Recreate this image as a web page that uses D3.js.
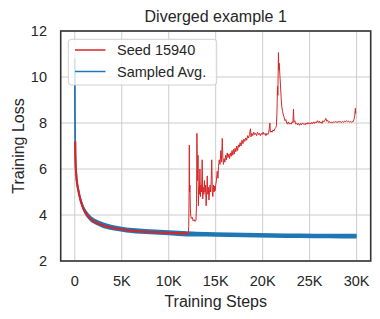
<!DOCTYPE html>
<html><head><meta charset="utf-8">
<script src="https://cdn.jsdelivr.net/npm/d3@7"></script>
<style>
html,body{margin:0;padding:0;background:#fff;}
svg text{font-family:"Liberation Sans",Arial,sans-serif;fill:#262626;}
</style></head>
<body><svg id="c" width="380" height="319"></svg>
<script>
const xTicks = [0, 5000, 10000, 15000, 20000, 25000, 30000];
const xTickLabels = ["0", "5K", "10K", "15K", "20K", "25K", "30K"];
const yTicks = [2, 4, 6, 8, 10, 12];
const yTickLabels = ["2", "4", "6", "8", "10", "12"];
const seriesNames = ["Seed 15940", "Sampled Avg."];

// Sampled average (blue): step, loss, half-width of the noisy band
const blueSteps = [0,20,40,60,100,150,200,300,400,500,650,800,1000,1250,1500,1750,2000,2300,2600,3000,3500,4000,4700,5500,6500,7500,8500,10000,11000,12000,13000,14000,15000,16500,18000,19500,21000,22500,24000,25500,27000,28500,30000];
const blueLoss  = [10.8,8.3,7.2,6.6,6.1,5.8,5.55,5.25,5.05,4.85,4.6,4.42,4.22,4.05,3.92,3.82,3.75,3.68,3.63,3.56,3.5,3.45,3.4,3.35,3.31,3.28,3.26,3.23,3.2,3.18,3.17,3.16,3.15,3.14,3.13,3.12,3.11,3.1,3.1,3.09,3.09,3.08,3.08];
const blueSpread = [0.05,0.05,0.06,0.07,0.08,0.09,0.1,0.11,0.12,0.13,0.14,0.14,0.14,0.14,0.13,0.13,0.12,0.12,0.12,0.12,0.12,0.11,0.11,0.11,0.11,0.11,0.11,0.11,0.11,0.11,0.1,0.1,0.1,0.1,0.1,0.1,0.1,0.1,0.1,0.1,0.1,0.1,0.1];

// Seed 15940 (red), before divergence
const redEarlySteps = [40,60,100,150,200,300,400,500,650,800,1000,1250,1500,1750,2000,2300,2600,3000,3500,4000,4700,5500,6500,7500,8500,10000,11000,12000,12100];
const redEarlyLoss  = [7.2,6.55,6.05,5.75,5.5,5.22,5.02,4.83,4.58,4.4,4.2,4.03,3.9,3.8,3.73,3.66,3.61,3.55,3.49,3.44,3.39,3.34,3.3,3.27,3.25,3.22,3.21,3.2,3.2];

// Seed 15940 (red), diverged part
const redLateSteps = [12100,12130,12160,12190,12220,12260,12300,12340,12400,12500,12600,12700,12800,12900,12960,13000,13040,13080,13120,13160,13200,13260,13320,13380,13430,13500,13560,13620,13680,13740,13800,13860,13920,13980,14040,14100,14160,14220,14280,14340,14400,14460,14520,14580,14640,14700,14760,14820,14880,14940,15000,15080,15160,15240,15300,15380,15460,15550,15620,15700,15760,15830,15900,15980,16060,16140,16220,16300,16400,16480,16560,16650,16740,16820,16900,16980,17060,17150,17240,17330,17420,17500,17600,17700,17800,17900,18000,18100,18200,18300,18400,18500,18600,18700,18760,18850,18950,19050,19150,19250,19350,19450,19550,19650,19750,19850,19950,20050,20150,20250,20350,20450,20550,20650,20770,20820,20900,21000,21100,21200,21300,21400,21470,21530,21580,21620,21680,21720,21760,21830,21900,21980,22040,22120,22200,22290,22380,22460,22560,22640,22740,22840,22940,23040,23140,23220,23280,23330,23420,23520,23620,23720,23820,23920,24020,24120,24220,24320,24420,24520,24620,24720,24820,24920,25020,25120,25220,25320,25420,25520,25620,25720,25820,25920,26020,26120,26220,26320,26420,26520,26620,26720,26820,26920,27020,27120,27220,27320,27420,27520,27620,27720,27820,27920,28020,28120,28220,28320,28420,28520,28620,28720,28820,28920,29020,29120,29220,29320,29420,29520,29620,29720,29800,29870,29910];
const redLateLoss = [3.2,3.5,4.6,7.04,5.0,5.3,4.3,4.0,3.85,3.9,3.75,3.8,3.72,3.78,4.5,7.55,6.2,5.5,6.6,4.4,5.2,4.9,6.0,4.8,5.3,5.0,6.4,4.7,5.2,4.9,5.5,5.0,5.3,4.4,5.0,5.7,4.9,5.2,4.65,5.0,5.3,5.0,5.5,6.4,5.0,4.8,5.3,5.0,5.25,5.05,5.3,5.5,5.9,5.6,6.1,6.4,6.2,6.8,6.3,7.33,6.5,6.2,6.45,6.3,6.6,6.4,6.7,6.5,6.65,6.45,6.7,6.55,6.8,6.6,6.85,6.65,6.9,6.75,7.0,6.8,7.05,6.95,7.15,7.0,7.25,7.1,7.3,7.2,7.35,7.25,7.45,7.35,7.5,7.75,7.4,7.55,7.45,7.6,7.5,7.55,7.45,7.6,7.5,7.55,7.45,7.55,7.5,7.6,7.5,7.55,7.45,7.55,7.5,7.6,8.0,7.6,7.65,7.6,7.7,7.65,7.75,7.8,7.9,8.6,9.6,9.2,11.06,10.3,10.6,10.1,9.6,9.0,8.7,8.5,8.35,8.25,8.1,8.15,8.0,7.95,8.05,7.95,8.0,7.95,8.05,8.0,8.6,8.05,8.1,7.95,8.0,7.92,7.98,7.9,7.98,7.92,8.0,7.95,7.98,7.92,8.0,7.95,8.02,7.96,8.0,7.95,8.03,7.97,8.05,7.98,8.05,8.0,8.1,8.02,8.08,8.0,8.05,7.98,8.1,8.05,8.12,8.2,8.08,8.12,8.02,8.06,8.0,8.05,8.0,8.05,8.02,8.07,8.03,8.06,8.02,8.08,8.04,8.06,8.02,8.07,8.03,8.08,8.05,8.1,8.06,8.08,8.04,8.07,8.03,8.06,8.05,8.15,8.3,8.64,8.4];

const svg = d3.select("#c");
const L = 60.7, R = 370.7, T = 31, B = 261;
const x = d3.scaleLinear().domain([-1500, 31500]).range([L, R]);
const y = d3.scaleLinear().domain([2, 12]).range([B, T]);

// grid
svg.append("g").selectAll("line").data(xTicks).join("line")
  .attr("x1", d => x(d)).attr("x2", d => x(d)).attr("y1", T).attr("y2", B)
  .attr("stroke", "#cccccc").attr("stroke-width", 1);
svg.append("g").selectAll("line").data(yTicks).join("line")
  .attr("x1", L).attr("x2", R).attr("y1", d => y(d)).attr("y2", d => y(d))
  .attr("stroke", "#cccccc").attr("stroke-width", 1);

svg.append("clipPath").attr("id", "clip").append("rect")
  .attr("x", L).attr("y", T).attr("width", R - L).attr("height", B - T);
const plot = svg.append("g").attr("clip-path", "url(#clip)");

const blue = blueSteps.map((s, i) => ({s, v: blueLoss[i], w: blueSpread[i]}));
plot.append("path").datum(blue)
  .attr("d", d3.area().x(d => x(d.s)).y0(d => y(d.v - d.w)).y1(d => y(d.v + d.w)))
  .attr("fill", "#1f77b4");
plot.append("path").datum(blue)
  .attr("d", d3.line().x(d => x(d.s)).y(d => y(d.v)))
  .attr("fill", "none").attr("stroke", "#1f77b4").attr("stroke-width", 1.8);

const redEarly = redEarlySteps.map((s, i) => ({s, v: redEarlyLoss[i]}));
plot.append("path").datum(redEarly)
  .attr("d", d3.line().x(d => x(d.s)).y(d => y(d.v)))
  .attr("fill", "none").attr("stroke", "#d62728").attr("stroke-width", 2.2);
const redLate = redLateSteps.map((s, i) => ({s, v: redLateLoss[i]}));
plot.append("path").datum(redLate)
  .attr("d", d3.line().x(d => x(d.s)).y(d => y(d.v)))
  .attr("fill", "none").attr("stroke", "#d62728").attr("stroke-width", 1).attr("stroke-linejoin", "round");

// frame
svg.append("rect").attr("x", L).attr("y", T).attr("width", R - L).attr("height", B - T)
  .attr("fill", "none").attr("stroke", "#333333").attr("stroke-width", 1.6);

// tick labels
svg.append("g").selectAll("text").data(xTicks).join("text")
  .attr("x", d => x(d)).attr("y", 286).attr("text-anchor", "middle")
  .attr("font-size", "14.5px").text((d, i) => xTickLabels[i]);
svg.append("g").selectAll("text").data(yTicks).join("text")
  .attr("x", 47).attr("y", d => y(d) + 5).attr("text-anchor", "end")
  .attr("font-size", "14.5px").text((d, i) => yTickLabels[i]);

// labels
svg.append("text").attr("x", (L + R) / 2).attr("y", 307).attr("text-anchor", "middle")
  .attr("font-size", "16px").text("Training Steps");
svg.append("text").attr("transform", `translate(24,${(T + B) / 2}) rotate(-90)`)
  .attr("text-anchor", "middle").attr("font-size", "16px").text("Training Loss");
svg.append("text").attr("x", (L + R) / 2).attr("y", 22).attr("text-anchor", "middle")
  .attr("font-size", "16px").text("Diverged example 1");

// legend
const lg = svg.append("g");
lg.append("rect").attr("x", 68.3).attr("y", 39.3).attr("width", 148.4).attr("height", 45.7)
  .attr("rx", 3).attr("fill", "#ffffff").attr("fill-opacity", 0.8)
  .attr("stroke", "#d0d0d0").attr("stroke-width", 1);
const lcol = ["#d62728", "#1f77b4"];
seriesNames.forEach((n, i) => {
  const ly = 50 + i * 21.5;
  lg.append("line").attr("x1", 75).attr("x2", 105.5).attr("y1", ly).attr("y2", ly)
    .attr("stroke", lcol[i]).attr("stroke-width", 1.5);
  lg.append("text").attr("x", 117).attr("y", ly + 5).attr("font-size", "14.5px").text(n);
});
</script></body></html>
